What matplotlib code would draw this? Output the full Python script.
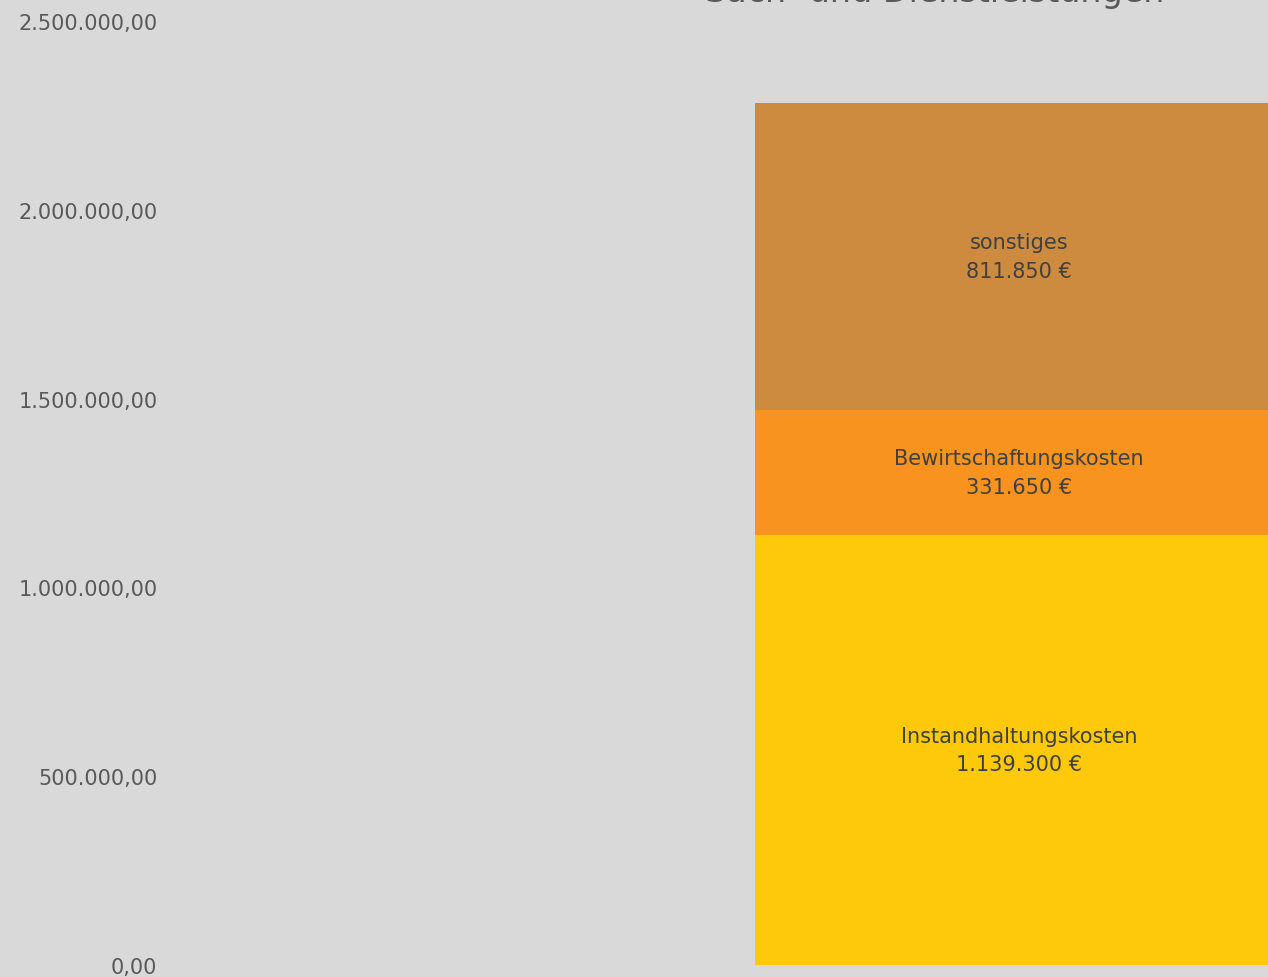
import matplotlib
matplotlib.use("Agg")
import matplotlib.pyplot as plt
from matplotlib.ticker import FuncFormatter

# Data
category = ["Sach- und Dienstleistungen"]
series_names = ["Instandhaltungskosten", "Bewirtschaftungskosten", "sonstiges"]
series_values = [1139300, 331650, 811850]
series_colors = ["#FFC90B", "#F7931E", "#CD8B3F"]
yticks = [0, 500000, 1000000, 1500000, 2000000, 2500000]
title = "Sach- und Dienstleistungen"

W, H = 1268, 978
fig = plt.figure(figsize=(W / 100, H / 100), dpi=100)
bg = "#D9D9D9"
fig.patch.set_facecolor(bg)

left_px, right_px, top_px, bottom_px = 170, 1268, 22, 966
ax = fig.add_axes([left_px / W, 1 - bottom_px / H, (right_px - left_px) / W, (bottom_px - top_px) / H])
ax.set_facecolor(bg)

def fmt_de(v, decimals=2):
    s = f"{v:,.{decimals}f}"
    return s.replace(",", "X").replace(".", ",").replace("X", ".")

bottom = 0
for name, val, col in zip(series_names, series_values, series_colors):
    ax.bar(0, val, width=1.0, bottom=bottom, color=col, linewidth=0)
    label = f"{name}\n{fmt_de(val, 0)} €"
    ax.text(0, bottom + val / 2, label, ha="center", va="center",
            fontsize=15, color="#404040", linespacing=1.55)
    bottom += val

ax.set_xlim(-1.608, 0.4716)
ax.set_ylim(0, 2500000)
ax.set_yticks(yticks)
ax.yaxis.set_major_formatter(FuncFormatter(lambda v, p: fmt_de(v)))
ax.tick_params(axis="y", length=0, pad=9, labelsize=15, labelcolor="#595959")
ax.set_xticks([])
for s in ax.spines.values():
    s.set_visible(False)

fig.text(935 / W, 1 - 2 / H, title, ha="center", va="baseline",
         fontsize=24, color="#595959")

fig.savefig("out.png", dpi=100, facecolor=bg)
